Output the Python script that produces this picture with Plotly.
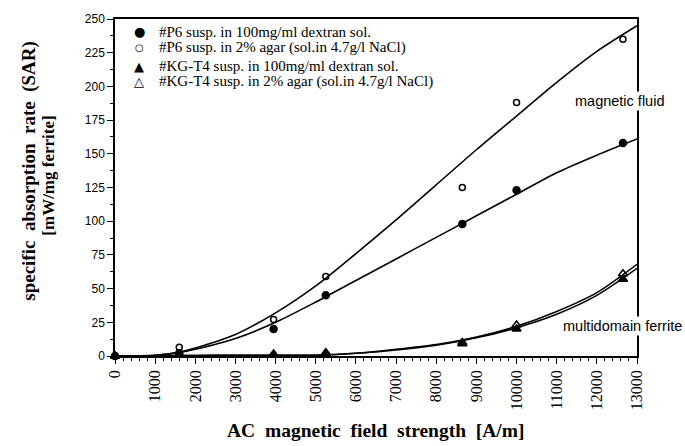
import plotly.graph_objects as go

# ---- measured data points ----
field = [0, 1600, 3950, 5250, 8650, 10000, 12650]
p6_dextran = [0, 2, 20, 45, 98, 123, 158]
p6_agar = [0, 6.5, 27, 59, 125, 188, 235]
kg_dextran = [0, 1, 1, 2, 9, 20, 57]
kg_agar = [0, 1, 1.5, 2.5, 10, 23, 61]

# ---- fitted curves ----
curve_x = [0, 1000, 1600, 2000, 3000, 4000, 5000, 6000, 7000, 8000, 9000, 10000, 11000, 12000, 13000]
fit_p6_agar = [0, 0.5, 3, 6, 16, 32, 52, 76, 101, 127, 153, 178, 203, 226, 245]
fit_p6_dextran = [0, 0.5, 2.5, 5, 13, 25, 40, 56, 72, 88, 104, 120, 136, 149, 161]
fit_kg_a = [0, 0, 0.3, 0.4, 0.5, 0.5, 0.6, 2, 5, 8.5, 14, 22, 33, 47, 68]
fit_kg_b = [0, 0, 0.3, 0.4, 0.5, 0.5, 0.6, 2, 4.5, 8, 13.5, 21, 31, 45, 65]

x_ticks = list(range(0, 13001, 1000))
y_ticks = list(range(0, 251, 25))

legend_names = [
    "#P6 susp. in 100mg/ml dextran sol.",
    "#P6 susp. in 2% agar (sol.in 4.7g/l NaCl)",
    "#KG-T4 susp. in 100mg/ml dextran sol.",
    "#KG-T4 susp. in 2% agar (sol.in 4.7g/l NaCl)",
]
legend_glyphs = ["\u25CF", "\u25CB", "\u25B2", "\u25B3"]
legend_glyph_sizes = [13, 10, 13, 13]

x_title = "AC magnetic field strength [A/m]"
y_title_lines = ["specific absorption rate (SAR)", "[mW/mg ferrite]&#8202;"]

fig = go.Figure()

for ys in [fit_p6_agar, fit_p6_dextran, fit_kg_a, fit_kg_b]:
    fig.add_trace(go.Scatter(
        x=curve_x, y=ys, mode="lines", line=dict(color="black", width=1.6, shape="spline", smoothing=0.8),
        showlegend=False, hoverinfo="skip", cliponaxis=False))

styles = [
    (p6_dextran, "circle", 7),
    (p6_agar, "circle-open", 6),
    (kg_dextran, "triangle-up", 8),
    (kg_agar, "triangle-up-open", 8),
]
for (ys, sym, sz), name in zip(styles, legend_names):
    fig.add_trace(go.Scatter(
        x=field, y=ys, mode="markers", name=name, showlegend=False,
        marker=dict(symbol=sym, size=sz, color="black", line=dict(color="black", width=1.5)),
        cliponaxis=False))

PL, PW, PB, PH = 115, 522, 356, 342
def px(x):
    return (x - PL) / PW
def py(y):
    return (PB - y) / PH

SERIF = "Liberation Serif, Times New Roman"
SANS = "Liberation Sans, Arial"

# legend drawn as text rows (tight spacing as in the original)
row_px = [27, 43, 62, 77]
for name, glyph, gsz, ry in zip(legend_names, legend_glyphs, legend_glyph_sizes, row_px):
    fig.add_annotation(x=px(139), y=py(ry), xref="paper", yref="paper", text=glyph,
                       showarrow=False, xanchor="center", yanchor="middle",
                       font=dict(family="DejaVu Sans", size=gsz, color="black"))
    fig.add_annotation(x=px(158), y=py(ry), xref="paper", yref="paper", text=name,
                       showarrow=False, xanchor="left", yanchor="middle", borderpad=0,
                       font=dict(family=SERIF, size=15, color="black"))

fig.add_annotation(x=px(619), xref="paper", y=py(97), yref="paper",
                   text="magnetic fluid", showarrow=False, xanchor="center", yanchor="middle",
                   bgcolor="white", borderpad=1,
                   font=dict(family=SANS, size=14.5, color="black"))
fig.add_annotation(x=px(684), xref="paper", y=py(326), yref="paper",
                   text="multidomain ferrite", showarrow=False, xanchor="right", yanchor="middle",
                   bgcolor="white", borderpad=1,
                   font=dict(family=SANS, size=14.5, color="black"))

def spaced(s):
    return s.replace(" ", "&nbsp; ")

# axis titles
fig.add_annotation(x=px(376), y=py(432), xref="paper", yref="paper", text=spaced(x_title),
                   showarrow=False, xanchor="center", yanchor="middle",
                   font=dict(family=SERIF, size=19.5, color="black", weight="bold"))
fig.add_annotation(x=px(29), y=py(168), xref="paper", yref="paper", text=spaced(y_title_lines[0]),
                   showarrow=False, xanchor="center", yanchor="middle", textangle=-90,
                   font=dict(family=SERIF, size=19, color="black", weight="bold"))
fig.add_annotation(x=px(49), y=py(172), xref="paper", yref="paper", text=y_title_lines[1],
                   showarrow=False, xanchor="center", yanchor="middle", textangle=-90,
                   font=dict(family=SERIF, size=17, color="black", weight="bold"))

fig.update_layout(
    width=685, height=446,
    margin=dict(l=115, r=48, t=14, b=90),
    paper_bgcolor="white", plot_bgcolor="white",
    font=dict(family=SANS, size=11, color="black"),
    showlegend=False,
    xaxis=dict(
        range=[0, 13000], tickvals=x_ticks, ticktext=[str(v) for v in x_ticks],
        tickangle=-90, showgrid=False, zeroline=False,
        showline=True, linecolor="black", linewidth=1.5, mirror=True,
        ticks="outside", ticklen=6, tickwidth=1.2, tickcolor="black",
        minor=dict(dtick=200, ticks="outside", ticklen=3, tickcolor="black", tickwidth=1),
        tickfont=dict(family=SERIF, size=16),
    ),
    yaxis=dict(
        range=[0, 250], tickvals=y_ticks, showgrid=False, zeroline=False,
        showline=True, linecolor="black", linewidth=1.5, mirror=True,
        ticks="outside", ticklen=6, tickwidth=1.2, tickcolor="black",
        minor=dict(dtick=12.5, ticks="outside", ticklen=3, tickcolor="black", tickwidth=1),
        tickfont=dict(family=SANS, size=12),
    ),
)

fig.write_html("out.html")
